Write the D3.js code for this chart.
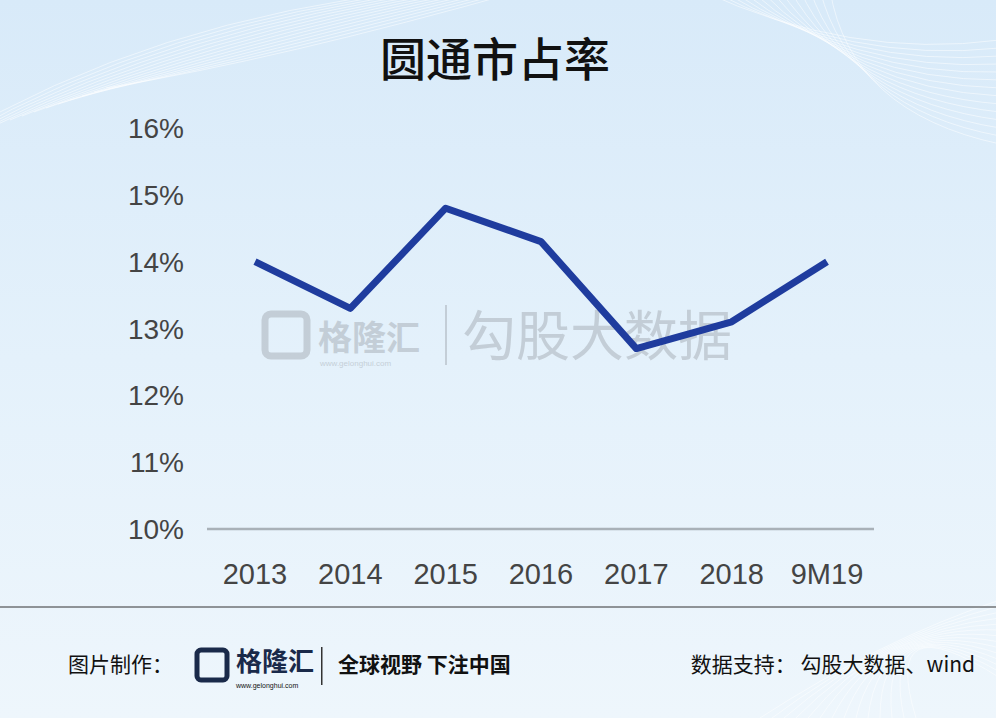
<!DOCTYPE html>
<html><head><meta charset="utf-8">
<script src="https://cdn.jsdelivr.net/npm/d3@7/dist/d3.min.js"></script>
<style>body{margin:0;overflow:hidden}</style></head>
<body><svg id="c" width="996" height="718"></svg>
<script>
const categories = ["2013","2014","2015","2016","2017","2018","9M19"];
const shareValues = [14.0,13.3,14.8,14.3,12.7,13.1,14.0];
const yTicks = [10,11,12,13,14,15,16];

const svg = d3.select("#c");
const defs = svg.append("defs");
const g = defs.append("linearGradient").attr("id","bg").attr("x1",0).attr("y1",0).attr("x2",0).attr("y2",1);
g.append("stop").attr("offset","0%").attr("stop-color","#d8eaf9");
g.append("stop").attr("offset","50%").attr("stop-color","#e4f1fb");
g.append("stop").attr("offset","100%").attr("stop-color","#eef6fc");
svg.append("rect").attr("width",996).attr("height",718).attr("fill","url(#bg)");
const deco = svg.append("g").attr("stroke","#ffffff").attr("stroke-opacity",0.5).attr("fill","none");
for (let i=0;i<14;i++){
  deco.append("path").attr("d",`M${-50+i*12},${140-i*4} Q${150+i*10},${20+i*3} ${420+i*8},${-10}`);
  deco.append("path").attr("d",`M${700+i*10},${-10} Q${850},${60+i*4} ${1000},${40+i*8}`);
  deco.append("path").attr("d",`M${760+i*12},${718} Q${880},${640-i*3} ${1000},${600+i*6}`);
}

svg.append("text").attr("x",495).attr("y",76).attr("text-anchor","middle")
  .attr("font-family","Noto Sans CJK SC").attr("font-size",46).attr("font-weight",500)
  .attr("fill","#111").text("圆通市占率");

const x = d3.scalePoint().domain(categories).range([255,827]);
const y = d3.scaleLinear().domain([10,16]).range([529,128]);

svg.append("line").attr("x1",207).attr("x2",874).attr("y1",y(10)).attr("y2",y(10))
  .attr("stroke","#a9b1b8").attr("stroke-width",2.5);

svg.append("g").selectAll("text").data(yTicks).join("text")
  .attr("x",184).attr("y",d=>y(d)+10).attr("text-anchor","end")
  .attr("font-family","Liberation Sans, Arial").attr("font-size",28).attr("fill","#444")
  .text(d=>d+"%");
svg.append("g").selectAll("text").data(categories).join("text")
  .attr("x",d=>x(d)).attr("y",584).attr("text-anchor","middle")
  .attr("font-family","Liberation Sans, Arial").attr("font-size",29).attr("fill","#444")
  .text(d=>d);

const wm = svg.append("g").attr("opacity",0.35).attr("fill","#8a8f95");
wm.append("rect").attr("x",265).attr("y",314).attr("width",42).attr("height",42).attr("rx",6).attr("fill","none").attr("stroke","#8a8f95").attr("stroke-width",7);
wm.append("text").attr("x",318).attr("y",350).attr("font-family","Noto Sans CJK SC").attr("font-size",34).attr("font-weight",700).text("格隆汇");
wm.append("text").attr("x",320).attr("y",366).attr("font-family","Liberation Sans").attr("font-size",8).text("www.gelonghui.com");
wm.append("rect").attr("x",445).attr("y",305).attr("width",2).attr("height",60);
wm.append("text").attr("x",462).attr("y",356).attr("font-family","Noto Sans CJK SC").attr("font-size",54).text("勾股大数据");

svg.append("path").datum(shareValues.map((v,i)=>[categories[i],v]))
  .attr("fill","none").attr("stroke","#1f3c9e").attr("stroke-width",7).attr("stroke-linejoin","round")
  .attr("d",d3.line().x(d=>x(d[0])).y(d=>y(d[1])));

svg.append("line").attr("x1",0).attr("x2",996).attr("y1",607).attr("y2",607).attr("stroke","#333").attr("stroke-width",1);
const f = svg.append("g").attr("font-family","Noto Sans CJK SC").attr("fill","#111");
f.append("text").attr("x",68).attr("y",672).attr("font-size",21).text("图片制作：");
f.append("rect").attr("x",197).attr("y",650).attr("width",30).attr("height",30).attr("rx",4).attr("fill","none").attr("stroke","#1a2a4a").attr("stroke-width",5);
f.append("text").attr("x",236).attr("y",671).attr("font-size",26).attr("font-weight",700).attr("fill","#1a2a4a").text("格隆汇");
f.append("text").attr("x",236).attr("y",688).attr("font-size",7).attr("font-family","Liberation Sans").text("www.gelonghui.com");
f.append("rect").attr("x",321).attr("y",647).attr("width",1.5).attr("height",38).attr("fill","#333");
f.append("text").attr("x",338).attr("y",672).attr("font-size",21).attr("font-weight",700).text("全球视野 下注中国");
f.append("text").attr("x",975).attr("y",672).attr("text-anchor","end").attr("font-size",21).text("数据支持： 勾股大数据、wind");
</script></body></html>
